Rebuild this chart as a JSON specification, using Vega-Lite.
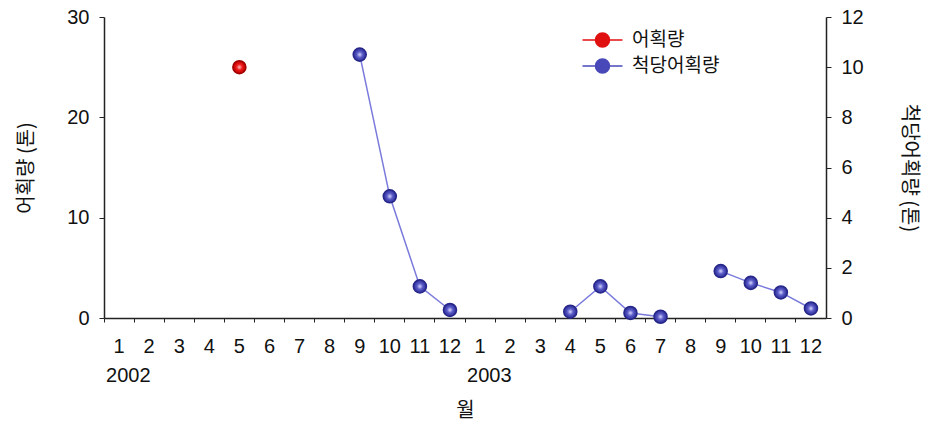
{
  "$schema": "https://vega.github.io/schema/vega-lite/v6.json",
  "width": 722,
  "height": 301,
  "autosize": {"type": "none"},
  "padding": {"left": 104, "top": 17, "right": 100, "bottom": 108},
  "background": "white",
  "config": {
    "view": {"stroke": null},
    "font": "Liberation Sans, Noto Sans CJK KR",
    "axis": {
      "labelFont": "Liberation Sans, Noto Sans CJK KR",
      "labelFontSize": 20,
      "labelColor": "#111",
      "titleFont": "Noto Sans CJK KR",
      "titleFontSize": 20,
      "titleFontWeight": "normal",
      "titleColor": "#111",
      "domainColor": "#222",
      "domainWidth": 1.5,
      "tickColor": "#222",
      "grid": false
    }
  },
  "data": {
    "values": [
      {"t": "2002-05", "s": "어획량", "v": 25.0, "seg": "r"},
      {"t": "2002-09", "s": "척당어획량", "v": 10.5, "seg": "a"},
      {"t": "2002-10", "s": "척당어획량", "v": 4.85, "seg": "a"},
      {"t": "2002-11", "s": "척당어획량", "v": 1.26, "seg": "a"},
      {"t": "2002-12", "s": "척당어획량", "v": 0.32, "seg": "a"},
      {"t": "2003-04", "s": "척당어획량", "v": 0.25, "seg": "b"},
      {"t": "2003-05", "s": "척당어획량", "v": 1.26, "seg": "b"},
      {"t": "2003-06", "s": "척당어획량", "v": 0.2, "seg": "b"},
      {"t": "2003-07", "s": "척당어획량", "v": 0.05, "seg": "b"},
      {"t": "2003-09", "s": "척당어획량", "v": 1.87, "seg": "c"},
      {"t": "2003-10", "s": "척당어획량", "v": 1.4, "seg": "c"},
      {"t": "2003-11", "s": "척당어획량", "v": 1.02, "seg": "c"},
      {"t": "2003-12", "s": "척당어획량", "v": 0.38, "seg": "c"}
    ]
  },
  "layer": [
    {
      "transform": [{"filter": "datum.s === '어획량'"}],
      "mark": {
        "type": "point",
        "filled": true,
        "size": 170,
        "opacity": 1,
        "fill": {"gradient": "radial", "x1": 0.5, "y1": 0.5, "r1": 0, "x2": 0.5, "y2": 0.5, "r2": 0.5, "stops": [{"offset": 0, "color": "#ffc8c8"}, {"offset": 0.45, "color": "#f01818"}, {"offset": 1, "color": "#b80000"}]},
        "stroke": "#a00000",
        "strokeWidth": 1.5
      },
      "encoding": {
        "x": {
          "field": "t",
          "type": "ordinal",
          "scale": {
            "type": "band",
            "paddingInner": 0,
            "paddingOuter": 0,
            "domain": ["2002-01","2002-02","2002-03","2002-04","2002-05","2002-06","2002-07","2002-08","2002-09","2002-10","2002-11","2002-12","2003-01","2003-02","2003-03","2003-04","2003-05","2003-06","2003-07","2003-08","2003-09","2003-10","2003-11","2003-12"]
          },
          "axis": {
            "orient": "bottom",
            "title": null,
            "labelAngle": 0,
            "labelOverlap": false,
            "ticks": false,
            "tickSize": 0,
            "labelPadding": 18,
            "labelExpr": "toString(toNumber(slice(datum.value, 5)))"
          }
        },
        "y": {
          "field": "v",
          "type": "quantitative",
          "scale": {"domain": [0, 30], "nice": false},
          "axis": {"orient": "left", "values": [0, 10, 20, 30], "title": "어획량 (톤)", "tickSize": 5, "labelPadding": 10, "titlePadding": 30}
        },
        "color": {
          "field": "s",
          "type": "nominal",
          "scale": {"domain": ["어획량", "척당어획량"], "range": ["#e01010", "#4848b8"]},
          "legend": {
            "title": null,
            "orient": "none",
            "legendX": 487.5,
            "legendY": 12,
            "symbolType": "M-2,0L-0.7,0M0.7,0L2,0M-0.7,0A0.7,0.7 0 1,0 0.7,0A0.7,0.7 0 1,0 -0.7,0Z",
            "symbolSize": 400,
            "symbolStrokeWidth": 1.5,
            "labelFont": "Noto Sans CJK KR",
            "labelFontSize": 19,
            "labelColor": "#111",
            "labelOffset": 18.5,
            "rowPadding": 5,
            "encode": {
              "symbols": {
                "update": {
                  "fill": {"scale": "color", "field": "value"},
                  "stroke": {"scale": "color", "field": "value"},
                  "opacity": {"value": 1}
                }
              }
            }
          }
        }
      }
    },
    {
      "transform": [{"filter": "datum.s === '척당어획량'"}],
      "encoding": {
        "x": {
          "field": "t",
          "type": "ordinal",
          "axis": {
            "orient": "bottom",
            "title": "월",
            "titlePadding": 15,
            "domain": false,
            "ticks": true,
            "tickSize": 4,
            "bandPosition": 0,
            "labelAngle": 0,
            "labelOverlap": false,
            "labelPadding": 43,
            "labelAlign": "left",
            "labelOffset": -13,
            "labelExpr": "datum.value == '2002-01' ? '2002' : (datum.value == '2003-01' ? '2003' : '')"
          }
        },
        "y": {
          "field": "v",
          "type": "quantitative",
          "scale": {"domain": [0, 12], "nice": false},
          "axis": {"orient": "right", "values": [0, 2, 4, 6, 8, 10, 12], "title": "척당어획량 (톤)", "tickSize": 5, "labelPadding": 10, "titlePadding": 35}
        },
        "color": {"field": "s", "type": "nominal"}
      },
      "layer": [
        {
          "mark": {"type": "line", "stroke": "#7a7adc", "strokeWidth": 1.5},
          "encoding": {"detail": {"field": "seg"}}
        },
        {
          "mark": {
            "type": "point",
            "filled": true,
            "size": 170,
            "opacity": 1,
            "fill": {"gradient": "radial", "x1": 0.5, "y1": 0.5, "r1": 0, "x2": 0.5, "y2": 0.5, "r2": 0.5, "stops": [{"offset": 0, "color": "#dcdcff"}, {"offset": 0.45, "color": "#5a5ac8"}, {"offset": 1, "color": "#2c2c94"}]},
            "stroke": "#26268a",
            "strokeWidth": 1.5
          }
        }
      ]
    }
  ],
  "resolve": {"scale": {"y": "independent"}, "axis": {"x": "independent"}}
}
